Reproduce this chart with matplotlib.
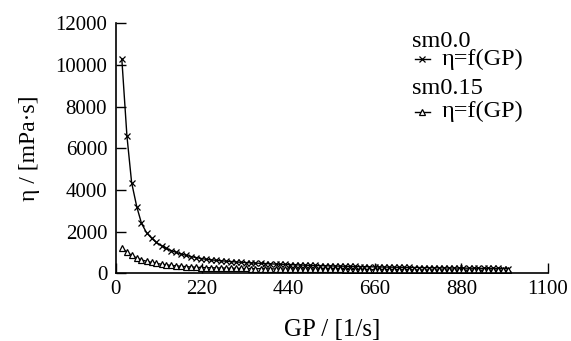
"""Viscosity vs. shear rate, sm0.0 and sm0.15."""

import matplotlib
matplotlib.use("Agg")
import matplotlib.pyplot as plt

# ─── data ────────────────────────────────────────────────────────────────────
GP = [16, 29, 41, 54, 66, 79, 92, 104, 117, 129, 142, 155, 167, 180, 192, 205,
      218, 230, 243, 255, 268, 281, 293, 306, 318, 331, 344, 356, 369, 381,
      394, 407, 419, 432, 444, 457, 470, 482, 495, 507, 520, 533, 545, 558,
      570, 583, 596, 608, 621, 633, 646, 659, 671, 684, 696, 709, 722, 734,
      747, 759, 772, 785, 797, 810, 822, 835, 848, 860, 873, 885, 898, 911,
      923, 936, 948, 961, 974, 986, 999]

ETA_SM00 = [10300, 6600, 4350, 3200, 2400, 1950, 1680, 1480, 1320, 1200, 1090,
            1000, 925, 860, 805, 755, 710, 672, 646, 624, 602, 582, 565, 545,
            531, 516, 502, 490, 478, 467, 454, 442, 434, 425, 416, 408, 399,
            391, 382, 376, 369, 362, 356, 350, 345, 339, 333, 328, 323, 319,
            314, 309, 305, 300, 296, 292, 289, 285, 282, 278, 275, 271, 268,
            265, 262, 259, 256, 254, 251, 248, 245, 243, 241, 238, 236, 234,
            232, 229, 227]

ETA_SM015 = [1215, 1020, 860, 735, 640, 580, 520, 475, 435, 405, 378, 355, 336,
             318, 303, 290, 278, 271, 265, 259, 253, 248, 243, 239, 235, 231,
             227, 224, 221, 218, 214, 211, 209, 206, 204, 201, 199, 197, 194,
             192, 190, 188, 186, 185, 183, 181, 179, 178, 176, 175, 173, 172,
             171, 169, 168, 167, 165, 164, 163, 162, 161, 160, 159, 158, 157,
             156, 155, 154, 153, 152, 151, 150, 149, 148, 147, 146, 145, 144,
             143]

X_TICKS = [0, 220, 440, 660, 880, 1100]
Y_TICKS = [0, 2000, 4000, 6000, 8000, 10000, 12000]

plt.rcParams.update({
    'font.family': 'Liberation Serif',
    'font.size': 15,
    'xtick.direction': 'in',
    'ytick.direction': 'in',
    'xtick.major.size': 7,
    'ytick.major.size': 7,
    'xtick.major.width': 1.0,
    'ytick.major.width': 1.0,
    'axes.linewidth': 1.2,
})

fig = plt.figure(figsize=(5.71, 3.41), dpi=100)
ax = fig.add_axes([0.2023, 0.1985, 0.7574, 0.7332])

ax.plot(GP, ETA_SM00, color='black', lw=1.0, marker='x', ms=4.5, mew=0.9)
ax.plot(GP, ETA_SM015, color='black', lw=1.0, marker='^', ms=4.5, mew=0.9,
        mfc='white')

ax.set_xlim(0, 1100)
ax.set_ylim(0, 12000)
ax.set_xticks(X_TICKS)
ax.set_yticks(Y_TICKS)
ax.spines['top'].set_visible(False)
ax.spines['right'].set_visible(False)
ax.tick_params(axis='x', labelsize=15, pad=5)
ax.tick_params(axis='y', labelsize=15, pad=6)

ax.set_xlabel('GP / [1/s]', fontsize=18, labelpad=14)
ax.set_ylabel('η / [mPa·s]', fontsize=17, labelpad=11)

# ─── hand-drawn legend ───────────────────────────────────────────────────────
leg_x, hnd_x0, hnd_x1, txt_x = 0.685, 0.692, 0.727, 0.753
FS_LEG = 17.5
ax.text(leg_x, 0.929, 'sm0.0', transform=ax.transAxes, va='center', ha='left',
        fontsize=FS_LEG)
ax.plot([hnd_x0, hnd_x1], [0.856, 0.856], transform=ax.transAxes, color='black',
        lw=1.0, clip_on=False)
ax.plot([(hnd_x0 + hnd_x1) / 2], [0.856], transform=ax.transAxes, color='black',
        marker='x', ms=5, mew=0.9, clip_on=False)
ax.text(txt_x, 0.856, 'η=f(GP)', transform=ax.transAxes, va='center', ha='left',
        fontsize=FS_LEG)

ax.text(leg_x, 0.741, 'sm0.15', transform=ax.transAxes, va='center', ha='left',
        fontsize=FS_LEG)
ax.plot([hnd_x0, hnd_x1], [0.646, 0.646], transform=ax.transAxes, color='black',
        lw=1.0, clip_on=False)
ax.plot([(hnd_x0 + hnd_x1) / 2], [0.646], transform=ax.transAxes, color='black',
        marker='^', ms=5, mew=0.9, mfc='white', clip_on=False)
ax.text(txt_x, 0.646, 'η=f(GP)', transform=ax.transAxes, va='center', ha='left',
        fontsize=FS_LEG)

fig.savefig('out.png', dpi=100)
